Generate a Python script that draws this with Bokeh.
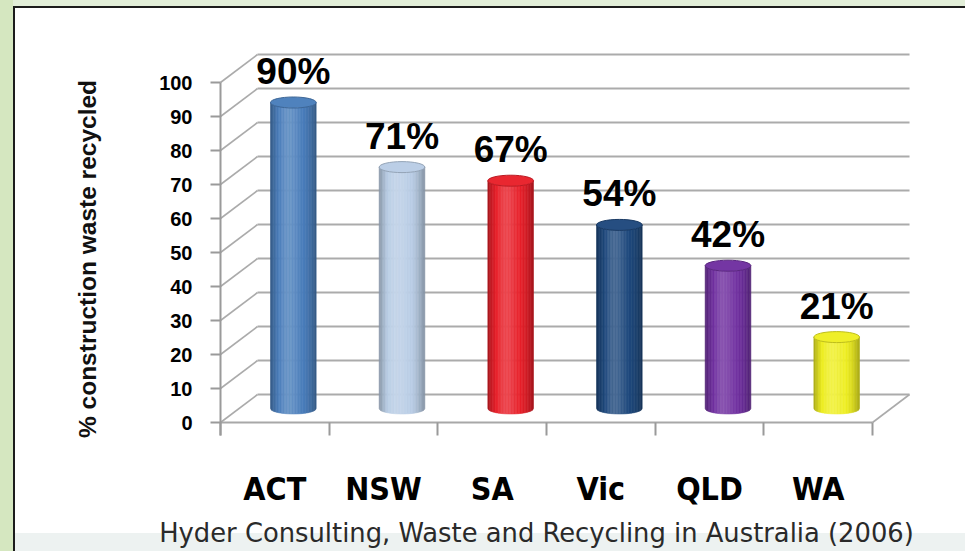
import numpy as np
from bokeh.plotting import figure
from bokeh.models import Range1d, FixedTicker, GlobalInlineStyleSheet
from bokeh.core.properties import value
from bokeh.embed import file_html
from bokeh.resources import INLINE

# ---------------- data ----------------
categories = ["ACT", "NSW", "SA", "Vic", "QLD", "WA"]
recycled_pct = [90, 71, 67, 54, 42, 21]
pct_labels = ["90%", "71%", "67%", "54%", "42%", "21%"]
bar_colors = ["#4a7ebb", "#b9cde5", "#e8202a", "#1f497d", "#7030a0", "#eeee22"]
y_ticks = [0, 10, 20, 30, 40, 50, 60, 70, 80, 90, 100]
y_title = "% construction waste recycled"
source_note = "Hyder Consulting, Waste and Recycling in Australia (2006)"

# ---------------- geometry / scales ----------------
W, H = 965, 551
X0_PX, UNIT_X_PX = 220.0, 108.67   # px of first category edge, px per category
Y0_PX, UNIT_Y_PX = 422.0, 3.4      # px (from top) of value 0, px per percent
DEPTH_X, DEPTH_Y = 37 / UNIT_X_PX, 28 / UNIT_Y_PX


def ux(px):
    return (px - X0_PX) / UNIT_X_PX


def vy(py):
    return (Y0_PX - py) / UNIT_Y_PX


def shade(hexc, s):
    rgb = [int(hexc[k:k + 2], 16) for k in (1, 3, 5)]
    out = []
    for c in rgb:
        c = c + (255 - c) * s if s >= 0 else c * (1 + s)
        out.append(int(round(min(255, max(0, c)))))
    return "#%02x%02x%02x" % tuple(out)


page_css = """
html {
  background:
    linear-gradient(#1c1c1c,#1c1c1c) 13px 6px / 2px 100% no-repeat,
    linear-gradient(#1c1c1c,#1c1c1c) 13px 6px / 100% 2px no-repeat,
    linear-gradient(#d5e7c0,#d5e7c0) 0 0 / 13px 100% no-repeat,
    linear-gradient(#e2eed8,#e2eed8) 0 0 / 100% 6px no-repeat,
    linear-gradient(#edf2f1,#edf2f1) 0 533px / 100% 40px no-repeat,
    #ffffff;
}
body { background: transparent; }
"""

p = figure(width=W, height=H, title=None,
           x_range=Range1d(ux(0), ux(W)), y_range=Range1d(vy(H), vy(0)),
           output_backend="svg", toolbar_location=None, min_border=0,
           background_fill_alpha=0, border_fill_alpha=0)
p.stylesheets = [GlobalInlineStyleSheet(css=page_css)]
p.outline_line_color = None
p.xgrid.visible = False
p.ygrid.visible = False

n_cat = len(categories)
grid_col = "#ababab"

# back wall gridlines
back_y = [v + DEPTH_Y for v in y_ticks]
p.segment(x0=[DEPTH_X] * len(y_ticks), y0=back_y,
          x1=[n_cat + DEPTH_X] * len(y_ticks), y1=back_y,
          line_color=grid_col, line_width=2)
# left wall diagonals
p.segment(x0=[0] * len(y_ticks), y0=y_ticks,
          x1=[DEPTH_X] * len(y_ticks), y1=back_y,
          line_color=grid_col, line_width=1.6)
# floor right edge
p.segment(x0=[n_cat], y0=[0], x1=[n_cat + DEPTH_X], y1=[DEPTH_Y],
          line_color=grid_col, line_width=1.6)

# ---------------- cylinders ----------------
N = 30
ts = np.linspace(-1, 1, N + 1)
half_w = 0.21
cap_b = 5.5 / UNIT_Y_PX
xs_all, ys_all, cols = [], [], []
cap_x, cap_y, cap_fill, cap_line = [], [], [], []
for i, (val, col) in enumerate(zip(recycled_pct, bar_colors)):
    cx = i + 0.5 + DEPTH_X / 2
    base_v = DEPTH_Y / 2
    top_v = val + DEPTH_Y / 2
    for k in range(N):
        tt = np.linspace(ts[k], ts[k + 1], 4)
        curve = cap_b * np.sqrt(np.clip(1 - tt ** 2, 0, 1))
        bx = cx + half_w * tt
        xs = list(bx) + list(bx[::-1])
        ys = list(base_v - curve) + list((top_v - curve)[::-1])
        tc = 0.5 * (ts[k] + ts[k + 1])
        s = 0.17 * np.exp(-((tc + 0.2) / 0.45) ** 2) - 0.30 * abs(tc) ** 3
        xs_all.append(xs)
        ys_all.append(ys)
        cols.append(shade(col, s))
    cap_x.append(cx)
    cap_y.append(top_v)
    cap_fill.append(shade(col, 0.03))
    cap_line.append(shade(col, -0.2))

p.patches(xs_all, ys_all, fill_color=cols, line_color=cols, line_width=0.6)
p.ellipse(x=cap_x, y=cap_y, width=2 * half_w, height=2 * cap_b,
          fill_color=cap_fill, line_color=cap_line, line_width=1)

# value labels
LABEL_GAP = 31 / UNIT_Y_PX
p.text(x=cap_x, y=[v + DEPTH_Y / 2 + LABEL_GAP for v in recycled_pct], text=pct_labels,
       text_font=value("Liberation Sans"), text_font_style="bold",
       text_font_size="37px", text_align="center", text_baseline="middle",
       text_color="#000000")

# ---------------- axes ----------------
yax = p.yaxis[0]
yax.fixed_location = 0
yax.ticker = FixedTicker(ticks=y_ticks)
yax.bounds = (-13 / UNIT_Y_PX, 100)
yax.axis_line_color = "#9a9a9a"
yax.axis_line_width = 2
yax.major_tick_out = 10
yax.major_tick_in = 0
yax.major_tick_line_color = "#9a9a9a"
yax.major_tick_line_width = 2
yax.minor_tick_line_color = None
yax.major_label_text_font = "Liberation Sans"
yax.major_label_text_font_style = "bold"
yax.major_label_text_font_size = "20px"
yax.major_label_text_color = "#000000"
yax.major_label_standoff = 18
yax.axis_label = y_title
yax.axis_label_text_font = "Liberation Sans"
yax.axis_label_text_font_style = "bold"
yax.axis_label_text_font_size = "24.5px"
yax.axis_label_text_color = "#111111"
yax.axis_label_standoff = 55

xax = p.xaxis[0]
xax.fixed_location = 0
xax.ticker = FixedTicker(ticks=[i + 0.5 for i in range(n_cat)],
                         minor_ticks=list(range(n_cat + 1)))
xax.major_label_overrides = {i + 0.5: c for i, c in enumerate(categories)}
xax.bounds = (0, n_cat)
xax.axis_line_color = "#a8a8a8"
xax.axis_line_width = 2
xax.major_tick_line_color = None
xax.major_tick_out = 0
xax.major_tick_in = 0
xax.minor_tick_out = 13
xax.minor_tick_in = 0
xax.minor_tick_line_color = "#9a9a9a"
xax.minor_tick_line_width = 2
xax.major_label_text_font = "'DejaVu Sans Condensed', sans-serif"
xax.major_label_text_font_style = "bold"
xax.major_label_text_font_size = "32px"
xax.major_label_text_color = "#000000"
xax.major_label_standoff = 34

# source note
p.text(x=[ux(536)], y=[vy(532)], text=[source_note],
       text_font=value("DejaVu Sans"), text_font_size="25.8px",
       text_align="center", text_baseline="middle", text_color="#2a2a2a")

open("out.html", "w").write(file_html(p, INLINE))
